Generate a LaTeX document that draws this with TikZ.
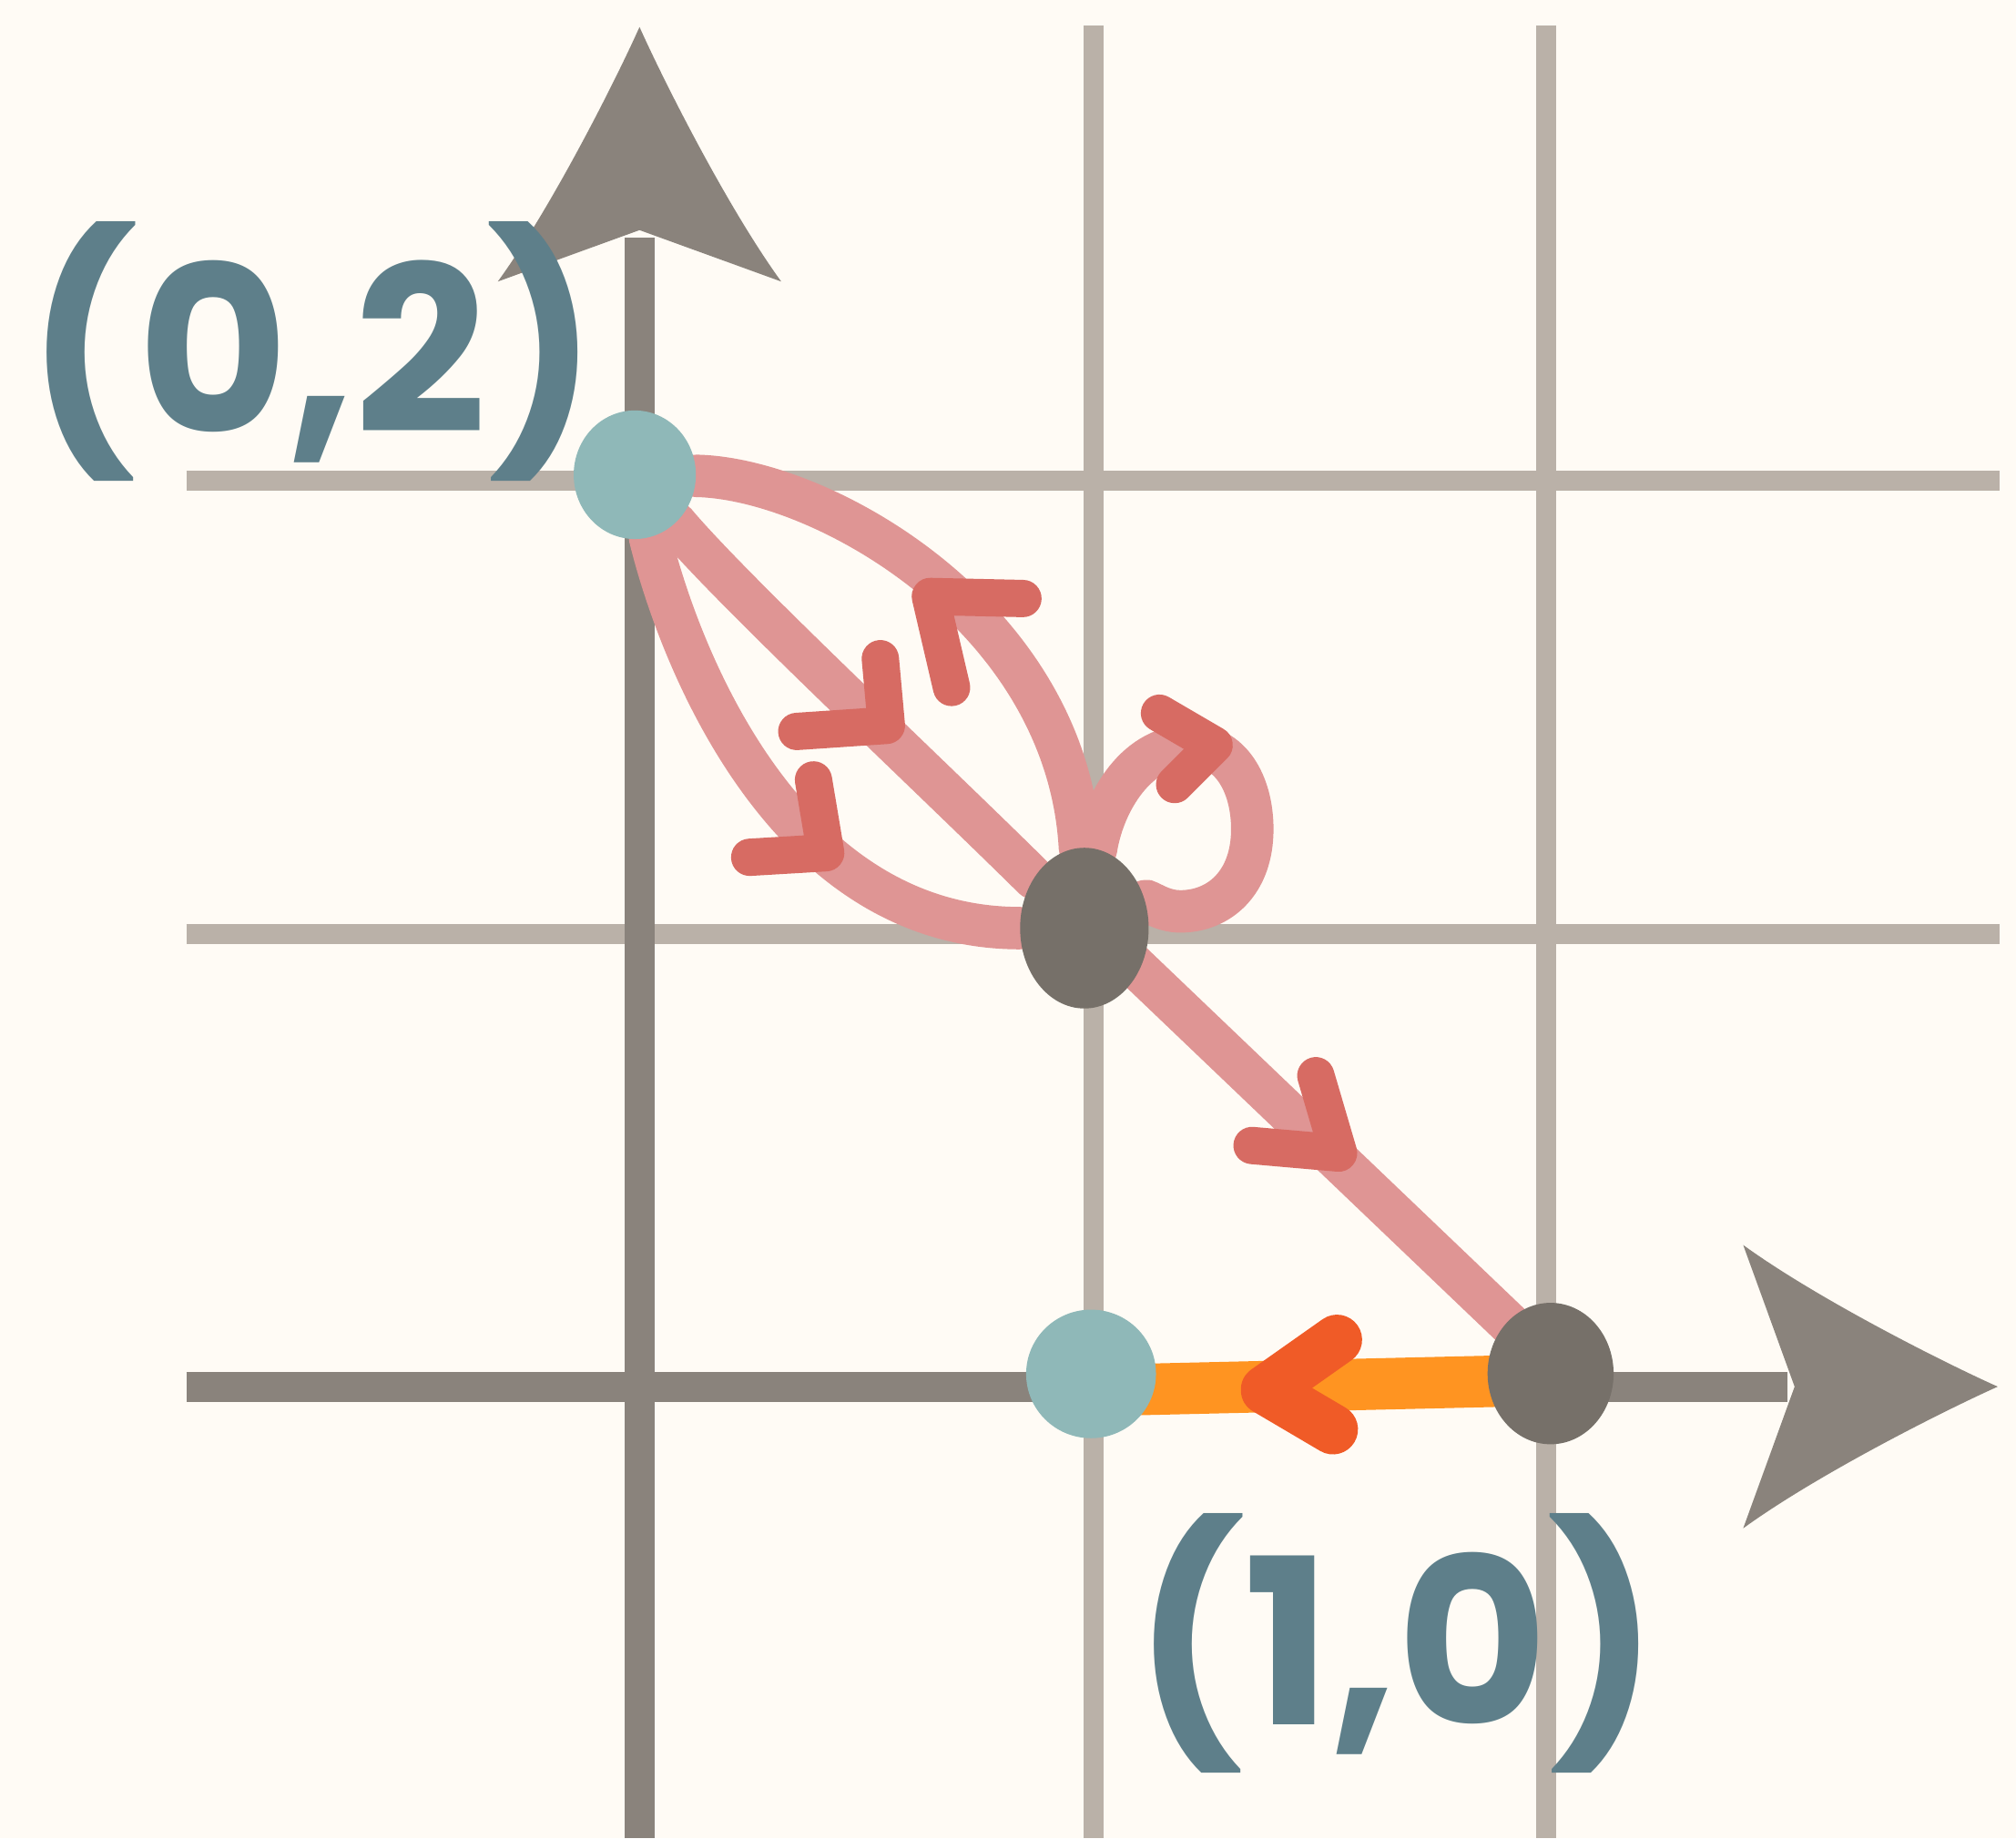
\documentclass[tikz,border=0pt]{standalone}
\usepackage{fontspec}
\setmainfont{Poppins}
\usetikzlibrary{shapes.geometric,calc}
\pgfdeclarelayer{back}
\pgfdeclarelayer{edges}
\pgfsetlayers{back,edges,main}
\definecolor{bgc}{HTML}{FFFBF5}
\definecolor{gridc}{HTML}{BAB1A8}
\definecolor{axisc}{HTML}{8A837C}
\definecolor{tealc}{HTML}{8FB8B8}
\definecolor{darkc}{HTML}{767069}
\definecolor{pinkc}{HTML}{DF9594}
\definecolor{redc}{HTML}{D76B63}
\definecolor{orangec}{HTML}{FF9421}
\definecolor{ochevc}{HTML}{F05B27}
\definecolor{lblc}{HTML}{5E7F8A}
\tikzset{
  gridline/.style={line width=15.5pt, draw=gridc},
  axisline/.style={line width=23.4pt, draw=axisc},
  tealn/.style={ellipse, fill=tealc, inner sep=0pt},
  darkn/.style={ellipse, fill=darkc, inner sep=0pt},
  pinkedge/.style={line width=33pt, draw=pinkc, line cap=round},
  orangeedge/.style={line width=40pt, draw=orangec, line cap=round},
  chev/.style={line width=29pt, draw=redc, line cap=round, line join=round},
  ochev/.style={line width=39pt, draw=ochevc, line cap=round, line join=round},
  lbl/.style={text=lblc, font=\fontsize{180}{200}\selectfont\bfseries, inner sep=0pt, anchor=base}
}
\begin{document}
\begin{tikzpicture}[x=1pt,y=-1pt]
\useasboundingbox (0,0) rectangle (1568,1430);
\begin{pgfonlayer}{back}
\fill[bgc] (0,0) rectangle (1568,1430);
\draw[gridline] (850.5,20) -- (850.5,1430);
\draw[gridline] (1202.7,20) -- (1202.7,1430);
\draw[gridline] (145,374.2) -- (1555,374.2);
\draw[gridline] (145,726.5) -- (1555,726.5);
\draw[axisline] (497.4,1430) -- (497.4,185);
\draw[axisline] (145,1078.7) -- (1390,1078.7);
\fill[axisc] (497.4,21) .. controls (480,60) and (430,160) .. (387.2,219) -- (497.4,179) -- (607.6,219) .. controls (564.8,160) and (514.8,60) .. (497.4,21) -- cycle;
\fill[axisc] (1553.8,1078.7) .. controls (1514.8,1061.3) and (1414.8,1011.3) .. (1355.8,968.5) -- (1395.8,1078.7) -- (1355.8,1188.9) .. controls (1414.8,1146.1) and (1514.8,1096.1) .. (1553.8,1078.7) -- cycle;
\end{pgfonlayer}

\node[tealn, minimum width=95pt, minimum height=100pt] (A) at (493.7,369.3) {};
\node[darkn, minimum width=100pt, minimum height=125pt] (B) at (843.4,722) {};
\node[tealn, minimum width=101pt, minimum height=100pt] (C) at (848.6,1068.8) {};
\node[darkn, minimum width=98pt, minimum height=110pt] (D) at (1206,1068.5) {};

\begin{pgfonlayer}{edges}
\draw[pinkedge] (A) .. controls (640,372) and (830,480) .. (B);
\draw[pinkedge] (A) .. controls (570,460) and (720,600) .. (B);
\draw[pinkedge] (A) .. controls (528,510) and (610,722) .. (B);
\draw[pinkedge] (B) .. controls (857,630) and (880,581) .. (925,580) .. controls (957,579) and (974,610) .. (974,645) .. controls (974,687) and (948,709) .. (918,709) .. controls (903,709) and (893,700) .. (B);
\draw[pinkedge] ([shift={(0,-8)}]B.center) -- ([shift={(0,-8)}]D.center);
\draw[orangeedge] ([shift={(0,5)}]D.center) -- ([shift={(0,13)}]C.center);
\draw[chev] (795.6,465.6) -- (723.6,464) -- (740.1,534.8);
\draw[chev] (684.7,512.4) -- (689.4,564.3) -- (619.7,569);
\draw[chev] (632.7,606.7) -- (642.2,663.4) -- (583.1,666.9);
\draw[chev] (901.8,554.8) -- (944.3,579.6) -- (913.6,610.3);
\draw[chev] (1023.4,836.8) -- (1041.1,897) -- (973.8,891.1);
\draw[ochev] (1039.9,1042.2) -- (984.6,1081.2) -- (1036.7,1111.9);
\end{pgfonlayer}

\node[lbl] (L1) at (243,337) {(0,2)};
\node[lbl] (L2) at (1086,1342) {(1,0)};
\end{tikzpicture}
\end{document}
